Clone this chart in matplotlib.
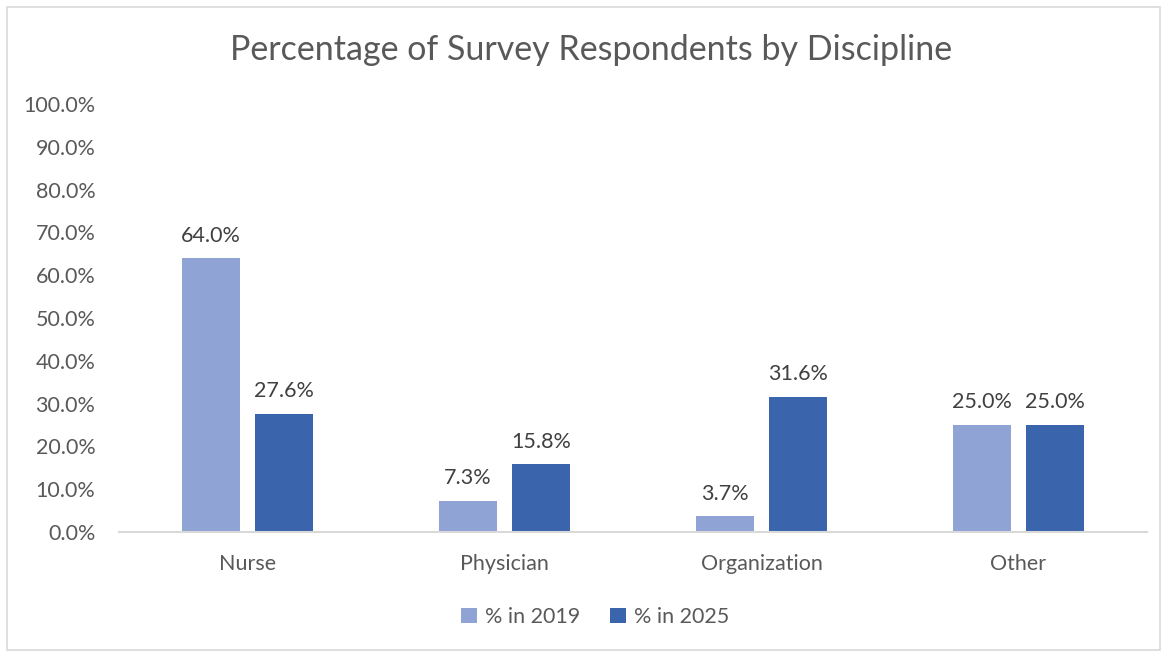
import matplotlib
matplotlib.use("Agg")
import matplotlib.pyplot as plt
from matplotlib.patches import Rectangle
import numpy as np

categories = ["Nurse", "Physician", "Organization", "Other"]
series_names = ["% in 2019", "% in 2025"]
values_2019 = [64.0, 7.3, 3.7, 25.0]
values_2025 = [27.6, 15.8, 31.6, 25.0]
yticks = [0, 10, 20, 30, 40, 50, 60, 70, 80, 90, 100]

c2019 = "#8FA4D5"
c2025 = "#3A64AC"
txt = "#595959"

plt.rcParams['font.family'] = ['Lato', 'DejaVu Sans']

fig = plt.figure(figsize=(11.61, 6.51), dpi=100)
fig.patches.append(Rectangle((7/1161, 1/651), 1 - 8/1161, 1 - 8/651, transform=fig.transFigure,
                             fill=False, edgecolor="#D9D9D9", linewidth=1.2))
ax = fig.add_axes([119/1161, 1 - 532/651, (1147 - 119)/1161, (532 - 104)/651])

x = np.arange(len(categories))
w = 0.226
off = 0.143
b1 = ax.bar(x - off, values_2019, w, color=c2019, label=series_names[0])
b2 = ax.bar(x + off, values_2025, w, color=c2025, label=series_names[1])

for bars, vals in ((b1, values_2019), (b2, values_2025)):
    for r, v in zip(bars, vals):
        ax.annotate(f"{v:.1f}%", (r.get_x() + r.get_width()/2, v), xytext=(0, 9),
                    textcoords="offset points", ha="center", va="bottom",
                    fontsize=15.5, color="#404040")

ax.set_xlim(-0.5, len(categories) - 0.5)
ax.set_ylim(0, 100)
ax.set_yticks(yticks)
ax.set_yticklabels([f"{t:.1f}%" for t in yticks], fontsize=15.5, color=txt)
ax.set_xticks(x)
ax.set_xticklabels(categories, fontsize=15.5, color=txt)
ax.tick_params(axis="both", length=0)
ax.tick_params(axis="x", pad=16)
ax.tick_params(axis="y", pad=17)
for s in ["top", "right", "left"]:
    ax.spines[s].set_visible(False)
ax.spines["bottom"].set_color("#D9D9D9")
ax.spines["bottom"].set_linewidth(1.5)

fig.text(591/1161, 1 - 50/651, "Percentage of Survey Respondents by Discipline",
         ha="center", va="center", fontsize=24.5, color=txt)

leg = fig.legend(loc="center", bbox_to_anchor=(595/1161, 1 - 617/651), ncol=2, frameon=False,
                 fontsize=15.5, handlelength=0.75, handleheight=0.75, columnspacing=1.4, handletextpad=0.35)
for t in leg.get_texts():
    t.set_color(txt)

fig.savefig("out.png", dpi=100)
